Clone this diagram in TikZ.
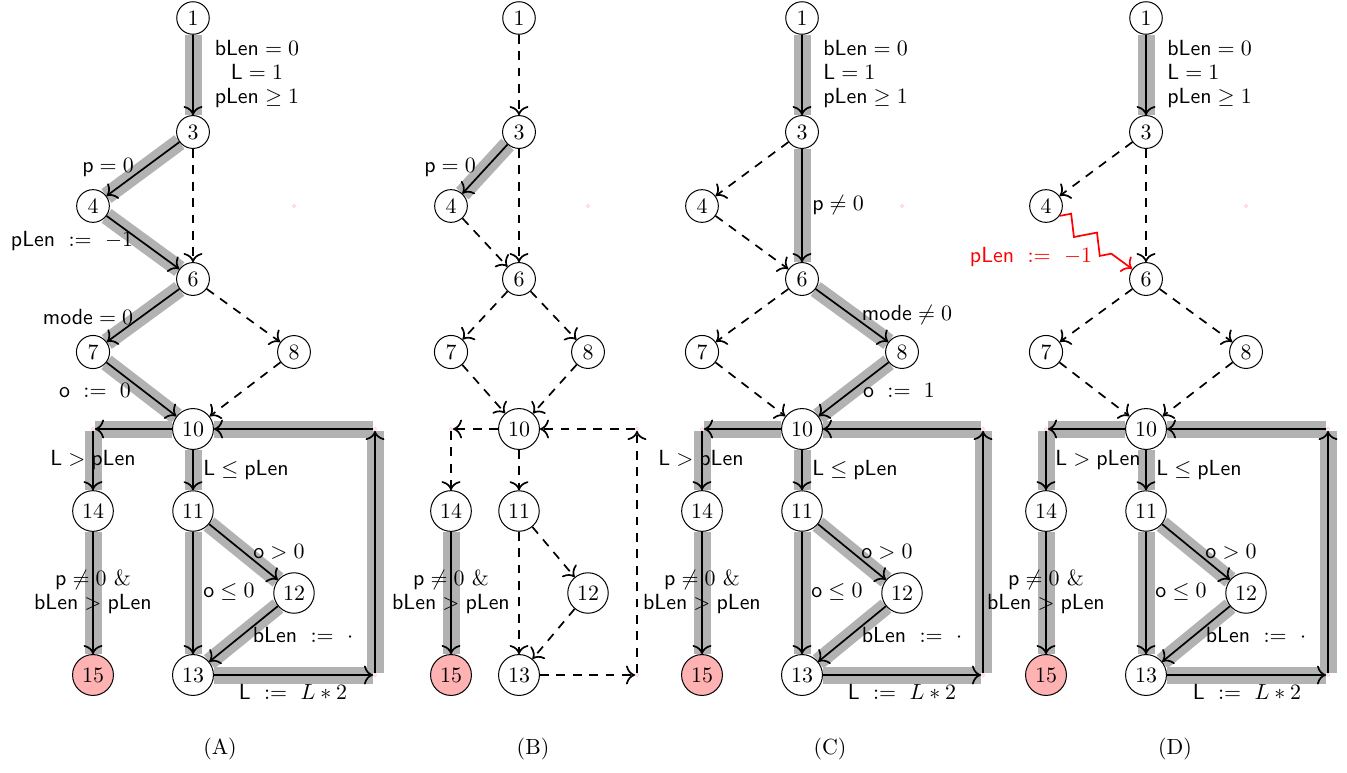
\documentclass[tikz,border=0pt]{standalone}
\usetikzlibrary{decorations.pathmorphing,arrows.meta}
\pgfdeclarelayer{bg}
\pgfsetlayers{bg,main}
\newcommand\fnt{\fontsize{10.95}{12}\selectfont}
\tikzset{
  >={To[scale=1.3]},
  nd/.style={circle, draw, line width=0.5pt, fill=white, inner sep=2.55pt, font=\fnt},
  cn/.style={circle, draw=red!20, line width=0.4pt, inner sep=0pt, minimum size=1.6pt},
  band/.style={draw=black!30, line width=8.5pt},
  sol/.style={->, line width=0.85pt},
  dsh/.style={->, line width=0.85pt, dash pattern=on 4.4pt off 3.8pt},
  lbl/.style={inner sep=0pt, font=\fnt},
  captxt/.style={inner sep=0pt, font=\fnt}
}
\newcommand\mkpanel[5]{%
 \node[nd] (#1-1) at (#2,18) {1};
 \node[nd] (#1-3) at (#2,132) {3};
 \node[nd] (#1-4) at (#3,206) {4};
 \node[cn] (#1-5) at (#4,206) {};
 \node[nd] (#1-6) at (#2,279) {6};
 \node[nd] (#1-7) at (#3,352) {7};
 \node[nd] (#1-8) at (#4,352) {8};
 \node[nd] (#1-10) at (#2,429) {10};
 \node[cn] (#1-cl) at (#3,429) {};
 \node[cn] (#1-cr) at (#5,429) {};
 \node[cn] (#1-cb) at (#5,675) {};
 \node[nd] (#1-14) at (#3,511) {14};
 \node[nd] (#1-11) at (#2,511) {11};
 \node[nd] (#1-12) at (#4,593) {12};
 \node[nd] (#1-13) at (#2,675) {13};
 \node[nd,fill=red!30] (#1-15) at (#3,675) {15};
}
\begin{document}
\begin{tikzpicture}[x=0.5pt,y=-0.5pt]
\path[use as bounding box] (0,0) rectangle (1347,772);
\mkpanel{A}{193}{93}{294}{375}
\mkpanel{B}{519}{451}{588}{637}
\mkpanel{C}{802}{702}{902}{983}
\mkpanel{D}{1146}{1046}{1246}{1328}

% highlighted (solid) edges
\begin{pgfonlayer}{bg}
\foreach \p/\a/\b in {A/1/3, A/3/4, A/4/6, A/6/7, A/7/10,
                      B/3/4, B/14/15,
                      C/1/3, C/3/6, C/6/8, C/8/10,
                      D/1/3}
  \draw[band] (\p-\a) -- (\p-\b);
\foreach \p in {A,C,D}
  \foreach \a/\b in {10/cl, cl/14, 14/15, 10/11, 11/12, 11/13, 12/13, 13/cb, cb/cr, cr/10}
    \draw[band] (\p-\a) -- (\p-\b);
\end{pgfonlayer}
\foreach \p/\a/\b in {A/1/3, A/3/4, A/4/6, A/6/7, A/7/10,
                      B/3/4, B/14/15,
                      C/1/3, C/3/6, C/6/8, C/8/10,
                      D/1/3}
  \draw[sol] (\p-\a) -- (\p-\b);
\foreach \p in {A,C,D}
  \foreach \a/\b in {10/cl, cl/14, 14/15, 10/11, 11/12, 11/13, 12/13, 13/cb, cb/cr, cr/10}
    \draw[sol] (\p-\a) -- (\p-\b);

% dashed edges
\foreach \p/\a/\b in {A/3/6, A/6/8, A/8/10,
                      B/1/3, B/3/6, B/4/6, B/6/7, B/6/8, B/7/10, B/8/10,
                      B/10/cl, B/cl/14, B/10/11, B/11/12, B/11/13, B/12/13,
                      B/13/cb, B/cb/cr, B/cr/10,
                      C/3/4, C/4/6, C/6/7, C/7/10,
                      D/3/4, D/3/6, D/6/7, D/6/8, D/7/10, D/8/10}
  \draw[dsh] (\p-\a) -- (\p-\b);

% red zigzag edge in D
\draw[->, red, line width=0.85pt, decorate,
      decoration={zigzag, segment length=16pt, amplitude=4.3pt, post length=5pt}]
  (D-4) -- (D-6);

% labels panel A
\node[lbl, align=center] at (257,74) {$\mathsf{bLen}=0$\\$\mathsf{L}=1$\\$\mathsf{pLen}\geq 1$};
\node[lbl] at (108,168) {$\mathsf{p}=0$};
\node[lbl] at (72,241) {$\mathsf{pLen}\ :=\ -1$};
\node[lbl] at (88,317) {$\mathsf{mode}=0$};
\node[lbl] at (95,390) {$\mathsf{o}\ :=\ 0$};
\node[lbl] at (93,460) {$\mathsf{L}>\mathsf{pLen}$};
\node[lbl] at (246,470) {$\mathsf{L}\leq\mathsf{pLen}$};
\node[lbl, align=center] at (93,592) {$\mathsf{p}\neq 0\ \&$\\$\mathsf{bLen}>\mathsf{pLen}$};
\node[lbl] at (279,552) {$\mathsf{o}>0$};
\node[lbl] at (229,592) {$\mathsf{o}\leq 0$};
\node[lbl] at (303,635) {$\mathsf{bLen}\ :=\ \cdot$};
\node[lbl] at (293,692) {$\mathsf{L}\ :=\ L*2$};

% labels panel B
\node[lbl] at (450,168) {$\mathsf{p}=0$};
\node[lbl, align=center] at (451,592) {$\mathsf{p}\neq 0\ \&$\\$\mathsf{bLen}>\mathsf{pLen}$};

% labels panel C
\node[lbl, align=left, anchor=west] at (823,74) {$\mathsf{bLen}=0$\\$\mathsf{L}=1$\\$\mathsf{pLen}\geq 1$};
\node[lbl] at (838,205) {$\mathsf{p}\neq 0$};
\node[lbl] at (907,315) {$\mathsf{mode}\neq 0$};
\node[lbl] at (899,390) {$\mathsf{o}\ :=\ 1$};
\node[lbl] at (701,460) {$\mathsf{L}>\mathsf{pLen}$};
\node[lbl] at (855,470) {$\mathsf{L}\leq\mathsf{pLen}$};
\node[lbl, align=center] at (702,592) {$\mathsf{p}\neq 0\ \&$\\$\mathsf{bLen}>\mathsf{pLen}$};
\node[lbl] at (887,552) {$\mathsf{o}>0$};
\node[lbl] at (837,592) {$\mathsf{o}\leq 0$};
\node[lbl] at (912,635) {$\mathsf{bLen}\ :=\ \cdot$};
\node[lbl] at (902,692) {$\mathsf{L}\ :=\ L*2$};

% labels panel D
\node[lbl, align=left, anchor=west] at (1167,74) {$\mathsf{bLen}=0$\\$\mathsf{L}=1$\\$\mathsf{pLen}\geq 1$};
\node[lbl, text=red] at (1031,257) {$\mathsf{pLen}\ :=\ -1$};
\node[lbl] at (1098,460) {$\mathsf{L}>\mathsf{pLen}$};
\node[lbl] at (1199,470) {$\mathsf{L}\leq\mathsf{pLen}$};
\node[lbl, align=center] at (1046,592) {$\mathsf{p}\neq 0\ \&$\\$\mathsf{bLen}>\mathsf{pLen}$};
\node[lbl] at (1231,552) {$\mathsf{o}>0$};
\node[lbl] at (1181,592) {$\mathsf{o}\leq 0$};
\node[lbl] at (1256,635) {$\mathsf{bLen}\ :=\ \cdot$};
\node[lbl] at (1247,692) {$\mathsf{L}\ :=\ L*2$};

% captions
\node[captxt] (capA) at (220,749) {(A)};
\node[captxt] (capB) at (533,749) {(B)};
\node[captxt] (capC) at (830,749) {(C)};
\node[captxt] (capD) at (1175,749) {(D)};
\end{tikzpicture}
\end{document}
